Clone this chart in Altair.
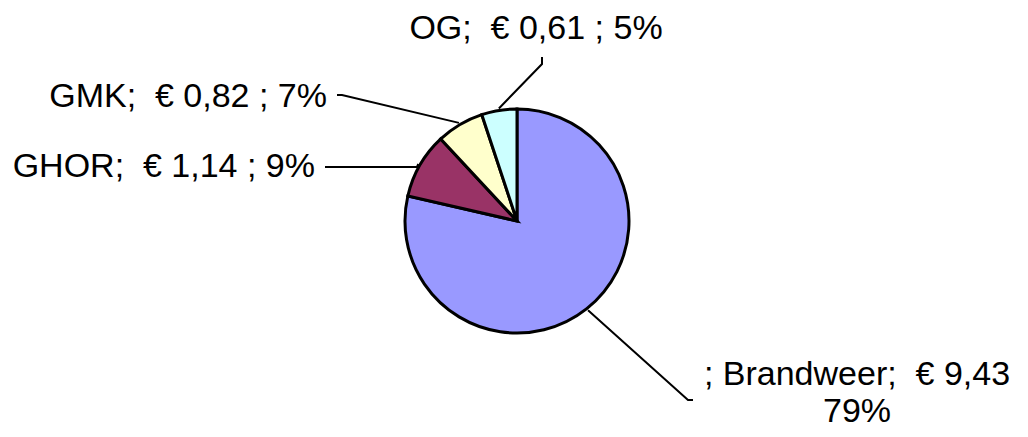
import math
import altair as alt
import pandas as pd

# ---- data ----
names = ["Brandweer", "GHOR", "GMK", "OG"]
values = [9.43, 1.14, 0.82, 0.61]
percents = [79, 9, 7, 5]
colors = ["#9999FF", "#993366", "#FFFFCC", "#CCFFFF"]

# ---- layout (chart pixel coordinates; page = chart + 8) ----
CX, CY, R = 509, 213, 112
FONT = "Liberation Sans"
FS = 34
# label anchor, alignment, leader elbow and end points
layout = {
    "Brandweer": dict(x=849, y=377, align="center", elbow=(680, 392), end=(685, 392)),
    "GHOR": dict(x=307, y=169, align="right", elbow=(409, 159), end=(317, 159)),
    "GMK": dict(x=319, y=99, align="right", elbow=(334, 87), end=(329, 87)),
    "OG": dict(x=528, y=31, align="center", elbow=(534, 56), end=(534, 49)),
}


def fmt(v):
    return f"{v:.2f}".replace(".", ",")


texts = {}
for n, v, p in zip(names, values, percents):
    if n == "Brandweer":
        texts[n] = f"; {n};\u00a0 € {fmt(v)}\n{p}%"
    else:
        texts[n] = f"{n};\u00a0 € {fmt(v)} ; {p}%"

df = pd.DataFrame({
    "name": names,
    "value": values,
    "idx": list(range(len(names))),
    "label": [texts[n] for n in names],
    "lx": [layout[n]["x"] for n in names],
    "ly": [layout[n]["y"] for n in names],
})

# leader lines: start on the slice mid-angle, go to elbow, end at label
total = sum(values)
rows = []
cum = 0.0
for n, v in zip(names, values):
    mid = (cum + v / 2) / total * 2 * math.pi
    cum += v
    r0 = 114
    sx, sy = CX + r0 * math.sin(mid), CY - r0 * math.cos(mid)
    pts = [(sx, sy), layout[n]["elbow"], layout[n]["end"]]
    for k, (px, py) in enumerate(pts):
        rows.append({"name": n, "seq": k, "px": px, "py": py})
leaders = pd.DataFrame(rows)

pie = alt.Chart(df).mark_arc(outerRadius=R, stroke="black", strokeWidth=3).encode(
    theta=alt.Theta("value:Q", stack=True),
    color=alt.Color("name:N", scale=alt.Scale(domain=names, range=colors), legend=None),
    order=alt.Order("idx:Q"),
    x=alt.value(CX),
    y=alt.value(CY),
)

lines = alt.Chart(leaders).mark_line(color="black", strokeWidth=2).encode(
    x=alt.X("px:Q", scale=None, axis=None),
    y=alt.Y("py:Q", scale=None, axis=None),
    detail="name:N",
    order="seq:Q",
)

label_layers = []
for n in names:
    label_layers.append(
        alt.Chart(df).transform_filter(alt.datum.name == n).mark_text(
            align=layout[n]["align"], baseline="alphabetic", font=FONT, fontSize=FS,
            color="black", lineBreak="\n", lineHeight=37,
        ).encode(
            x=alt.X("lx:Q", scale=None, axis=None),
            y=alt.Y("ly:Q", scale=None, axis=None),
            text="label:N",
        )
    )

chart = alt.layer(lines, pie, *label_layers).properties(
    width=1012, height=421, padding=0, autosize="none"
).configure_view(stroke=None)

chart.save("out.html", embed_options={"renderer": "svg", "actions": False})
